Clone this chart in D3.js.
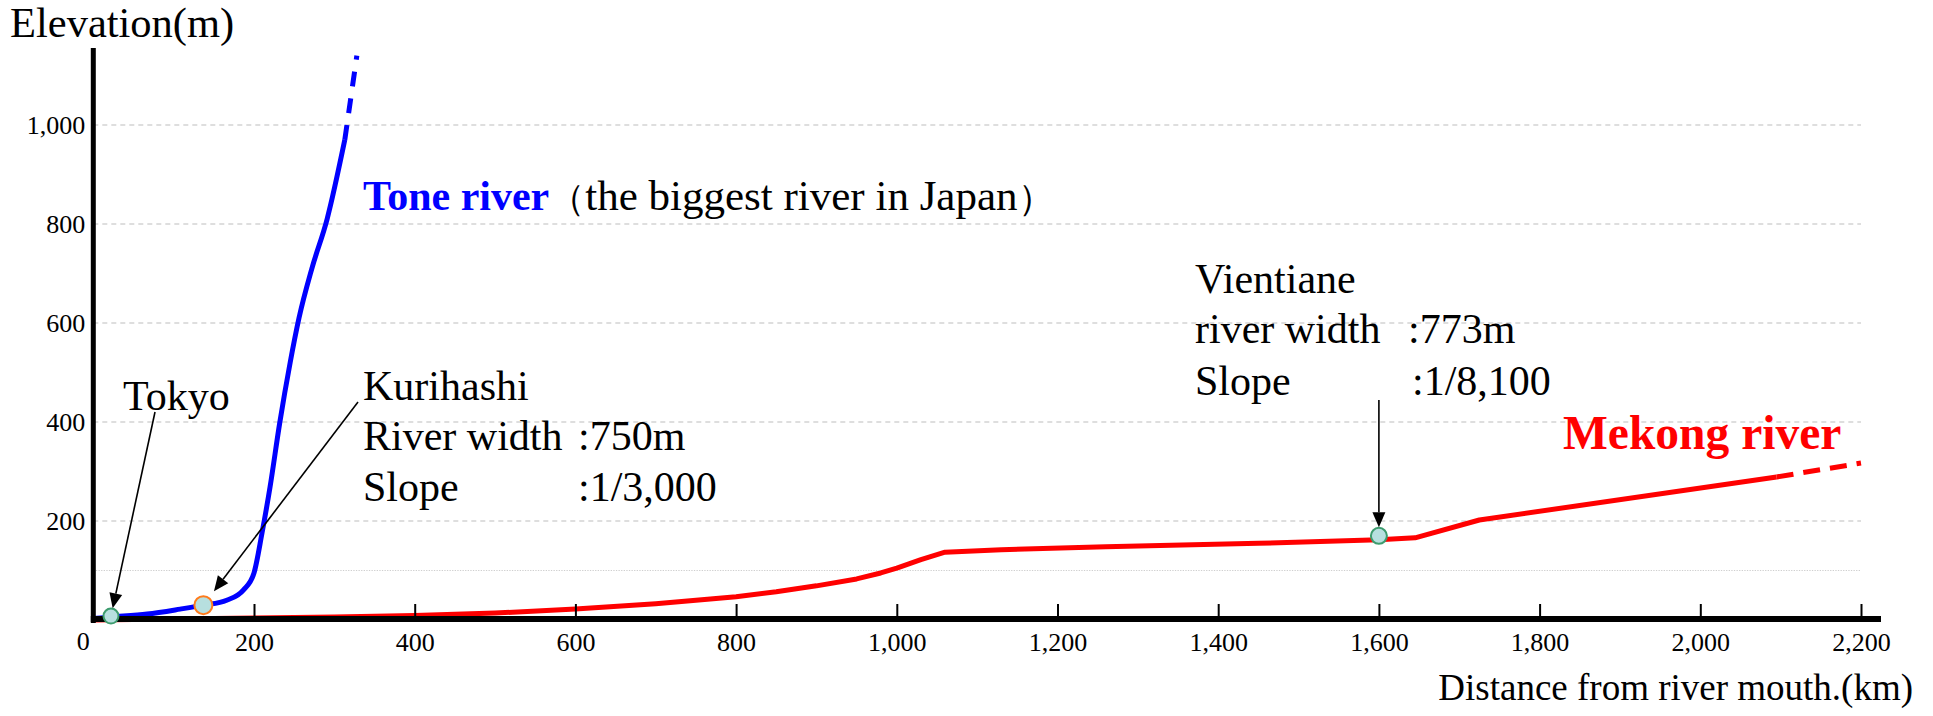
<!DOCTYPE html>
<html><head><meta charset="utf-8">
<script src="https://cdn.jsdelivr.net/npm/d3@7"></script>
<style>
body{margin:0;background:#fff}
svg{display:block}
text{font-family:"Liberation Serif","Times New Roman",serif;fill:#000}
</style>
</head><body>
<svg id="c" width="1933" height="716"></svg>
<script>
// ---------- data ----------
const distanceTicks = [200,400,600,800,1000,1200,1400,1600,1800,2000,2200];
const elevationTicks = [200,400,600,800,1000];
const minorElevationTicks = [100];

const toneKm   = [0, 22, 67, 108, 137, 166, 187, 200, 210, 220, 232, 245, 256, 272, 291, 313];
const toneElev = [3, 6, 12, 22, 30, 40, 61, 95, 176, 269, 398, 520, 610, 710, 810, 970];
const toneDashKm   = [313, 328];
const toneDashElev = [970, 1140];

const mekongKm   = [0, 200, 300, 400, 500, 600, 700, 800, 850, 900, 950, 980, 1000, 1030, 1060, 1130, 1260, 1450, 1600, 1645, 1725, 2095];
const mekongElev = [0, 4, 6, 9, 14, 22, 33, 47, 57, 69, 83, 95, 105, 122, 137, 142, 148, 155, 162, 166, 202, 289];
const mekongDashKm   = [2095, 2200];
const mekongDashElev = [289, 317];

const placeNames = ["Tokyo", "Kurihashi", "Vientiane"];
const placeKm    = [22, 137, 1600];
const placeElev  = [8, 30, 170];

const yAxisTitle = "Elevation(m)";
const xAxisTitle = "Distance from river mouth.(km)";
const toneTitle = "Tone river";
const toneNote = ["（", "the biggest river in Japan", "）"];
const mekongTitle = "Mekong river";
const kuriLabels = ["Kurihashi", "River width ", ":750m", "Slope", ":1/3,000"];
const vienLabels = ["Vientiane", "river width", ":773m", "Slope", ":1/8,100"];

// ---------- scales ----------
const svg = d3.select("#c");
const x = d3.scaleLinear().domain([0, 2200]).range([93.3, 1861]);
const y = d3.scaleLinear().domain([0, 1000]).range([620, 125]);

// grid
const grid = svg.append("g");
grid.selectAll("line.major").data(elevationTicks).join("line")
  .attr("x1", x(0)).attr("x2", x(2200))
  .attr("y1", d => y(d)).attr("y2", d => y(d))
  .attr("stroke", "#bdbdbd").attr("stroke-width", 1.2).attr("stroke-dasharray", "5,4");
grid.selectAll("line.minor").data(minorElevationTicks).join("line")
  .attr("x1", x(0)).attr("x2", x(2200))
  .attr("y1", d => y(d)).attr("y2", d => y(d))
  .attr("stroke", "#cfcfcf").attr("stroke-width", 1).attr("stroke-dasharray", "1.3,1.3");

// lines
const smooth = d3.line().x(d => x(d[0])).y(d => y(d[1])).curve(d3.curveMonotoneX);
const straight = d3.line().x(d => x(d[0])).y(d => y(d[1])).curve(d3.curveLinear);
const zip = (a, b) => a.map((v, i) => [v, b[i]]);

svg.append("path").attr("d", straight(zip(mekongKm, mekongElev)))
  .attr("fill", "none").attr("stroke", "#ff0000").attr("stroke-width", 5).attr("stroke-linejoin", "round");
svg.append("path").attr("d", straight(zip(mekongDashKm, mekongDashElev)))
  .attr("fill", "none").attr("stroke", "#ff0000").attr("stroke-width", 5).attr("stroke-dasharray", "17,10");

svg.append("path").attr("d", smooth(zip(toneKm, toneElev)))
  .attr("fill", "none").attr("stroke", "#0000ff").attr("stroke-width", 5);
svg.append("path").attr("d", straight(zip(toneDashKm, toneDashElev)))
  .attr("fill", "none").attr("stroke", "#0000ff").attr("stroke-width", 5).attr("stroke-dasharray", "15,12");

// axes
const xAxis = d3.axisBottom(x).tickValues(distanceTicks).tickFormat(d3.format(","))
  .tickSizeInner(-15).tickSizeOuter(0).tickPadding(14);
const gx = svg.append("g").attr("transform", `translate(0,${y(0)-1})`).call(xAxis);
gx.select(".domain").remove();
gx.selectAll(".tick line").attr("stroke", "#000").attr("stroke-width", 2);
gx.selectAll(".tick text").attr("font-size", 26).attr("font-family", "Liberation Serif");

const yAxis = d3.axisLeft(y).tickValues(elevationTicks).tickFormat(d3.format(","))
  .tickSize(0).tickPadding(8);
const gy = svg.append("g").attr("transform", `translate(${x(0)},0)`).call(yAxis);
gy.select(".domain").remove();
gy.selectAll(".tick text").attr("font-size", 26).attr("font-family", "Liberation Serif");

svg.append("text").attr("x", x(0) - 10).attr("y", 650).attr("font-size", 26)
  .attr("text-anchor", "middle").text("0");

// axis lines
svg.append("line").attr("x1", x(0)).attr("x2", x(0)).attr("y1", 48).attr("y2", y(0) + 3)
  .attr("stroke", "#000").attr("stroke-width", 5);
svg.append("line").attr("x1", x(0) - 2.5).attr("x2", 1881).attr("y1", y(0) - 1).attr("y2", y(0) - 1)
  .attr("stroke", "#000").attr("stroke-width", 6);

// axis titles
svg.append("text").attr("x", 10).attr("y", 37).attr("font-size", 42.5).text(yAxisTitle);
svg.append("text").attr("x", 1913).attr("y", 700).attr("font-size", 37)
  .attr("text-anchor", "end").text(xAxisTitle);

// place markers
const markerStroke = ["#3d9c6e", "#ff7b1c", "#3d9c6e"];
const markerR = [7.5, 9, 8];
const pts = placeNames.map((n, i) => ({n, cx: x(placeKm[i]), cy: y(placeElev[i]), r: markerR[i], s: markerStroke[i]}));
svg.selectAll("circle.p").data(pts).join("circle")
  .attr("cx", d => d.cx).attr("cy", d => d.cy).attr("r", d => d.r)
  .attr("fill", "#b7dfdf").attr("stroke", d => d.s).attr("stroke-width", 2);

// arrows
function arrow(x1, y1, tx, ty) {
  const dx = tx - x1, dy = ty - y1, L = Math.hypot(dx, dy);
  const ux = dx / L, uy = dy / L, hl = 15, hw = 6.5;
  const bx = tx - ux * hl, by = ty - uy * hl;
  svg.append("line").attr("x1", x1).attr("y1", y1).attr("x2", bx).attr("y2", by)
    .attr("stroke", "#000").attr("stroke-width", 1.6);
  svg.append("path").attr("d",
    `M${tx},${ty}L${bx - uy * hw},${by + ux * hw}L${bx + uy * hw},${by - ux * hw}Z`).attr("fill", "#000");
}
function arrowTo(x1, y1, p, gap) {
  const dx = p.cx - x1, dy = p.cy - y1, L = Math.hypot(dx, dy);
  const d = p.r + gap;
  arrow(x1, y1, p.cx - dx / L * d, p.cy - dy / L * d);
}
arrowTo(155, 412, pts[0], 0.5);
arrowTo(358, 402, pts[1], 8.5);
arrowTo(pts[2].cx, 400, pts[2], 0.5);

// annotations
svg.append("text").attr("x", 123).attr("y", 410).attr("font-size", 42).text(placeNames[0]);

const k = svg.append("g").attr("font-size", 42);
k.append("text").attr("x", 363).attr("y", 400).text(kuriLabels[0]);
k.append("text").attr("x", 363).attr("y", 450).text(kuriLabels[1]);
k.append("text").attr("x", 578).attr("y", 450).text(kuriLabels[2]);
k.append("text").attr("x", 363).attr("y", 501).text(kuriLabels[3]);
k.append("text").attr("x", 578).attr("y", 501).text(kuriLabels[4]);

const v = svg.append("g").attr("font-size", 42);
v.append("text").attr("x", 1195).attr("y", 293).text(vienLabels[0]);
v.append("text").attr("x", 1195).attr("y", 343).text(vienLabels[1]);
v.append("text").attr("x", 1408).attr("y", 343).text(vienLabels[2]);
v.append("text").attr("x", 1195).attr("y", 395).text(vienLabels[3]);
v.append("text").attr("x", 1412).attr("y", 395).text(vienLabels[4]);

const t = svg.append("text").attr("x", 363).attr("y", 210).attr("font-size", 42);
t.append("tspan").attr("font-weight", "bold").style("fill", "#0000ff").text(toneTitle);
t.append("tspan").attr("font-size", 36).text(toneNote[0]);
t.append("tspan").attr("font-size", 43).text(toneNote[1]);
t.append("tspan").attr("font-size", 36).text(toneNote[2]);

svg.append("text").attr("x", 1563).attr("y", 449).attr("font-size", 47.5)
  .attr("font-weight", "bold").style("fill", "#ff0000").text(mekongTitle);
</script>
</body></html>
